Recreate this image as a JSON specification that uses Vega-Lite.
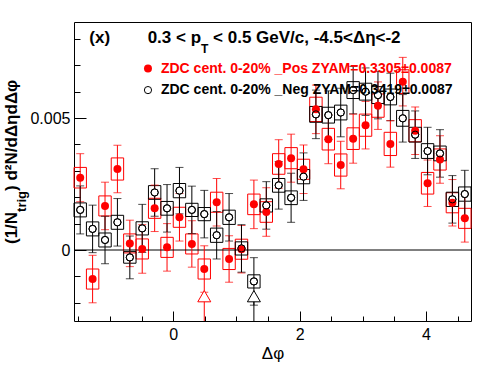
{
  "$schema": "https://vega.github.io/schema/vega-lite/v6.json",
  "width": 397,
  "height": 299,
  "autosize": {"type": "none"},
  "padding": {"left": 74, "top": 22, "right": 25, "bottom": 53},
  "background": "white",
  "config": {
    "view": {"stroke": "black", "strokeWidth": 1},
    "font": "Liberation Sans",
    "axis": {"domain": false, "grid": false, "labelFont": "Liberation Sans", "labelColor": "black", "tickColor": "black", "tickWidth": 1, "labelFontSize": 16}
  },
  "resolve": {"axis": {"x": "independent", "y": "independent"}},
  "datasets": {
    "pts": [
      {"s":"Pos","phi":-1.4726,"lo":-1.5708,"hi":-1.3744,"y":0.00274,"stat":0.00091,"sLo":0.00235,"sHi":0.00313},
      {"s":"Pos","phi":-1.2763,"lo":-1.3744,"hi":-1.1781,"y":-0.00110,"stat":0.00090,"sLo":-0.00148,"sHi":-0.00072},
      {"s":"Pos","phi":-1.0799,"lo":-1.1781,"hi":-0.9817,"y":0.00167,"stat":0.00090,"sLo":0.00129,"sHi":0.00205},
      {"s":"Pos","phi":-0.8836,"lo":-0.9817,"hi":-0.7854,"y":0.00307,"stat":0.00090,"sLo":0.00265,"sHi":0.00349},
      {"s":"Pos","phi":-0.6872,"lo":-0.7854,"hi":-0.5890,"y":0.00025,"stat":0.00088,"sLo":-0.00011,"sHi":0.00061},
      {"s":"Pos","phi":-0.4909,"lo":-0.5890,"hi":-0.3927,"y":0.00004,"stat":0.00092,"sLo":-0.00034,"sHi":0.00042},
      {"s":"Pos","phi":-0.2945,"lo":-0.3927,"hi":-0.1963,"y":0.00158,"stat":0.00088,"sLo":0.00120,"sHi":0.00196},
      {"s":"Pos","phi":-0.0982,"lo":-0.1963,"hi":0.0,"y":0.00010,"stat":0.00090,"sLo":-0.00028,"sHi":0.00048},
      {"s":"Pos","phi":0.0982,"lo":0.0,"hi":0.1963,"y":0.00124,"stat":0.00090,"sLo":0.00086,"sHi":0.00162},
      {"s":"Pos","phi":0.2945,"lo":0.1963,"hi":0.3927,"y":0.00023,"stat":0.00088,"sLo":-0.00015,"sHi":0.00061},
      {"s":"Pos","phi":0.4909,"lo":0.3927,"hi":0.5890,"y":-0.00072,"stat":0.00088,"sLo":-0.00110,"sHi":-0.00034},
      {"s":"Pos","phi":0.6872,"lo":0.5890,"hi":0.7854,"y":0.00181,"stat":0.00090,"sLo":0.00143,"sHi":0.00219},
      {"s":"Pos","phi":0.8836,"lo":0.7854,"hi":0.9817,"y":-0.00034,"stat":0.00088,"sLo":-0.00074,"sHi":0.00006},
      {"s":"Pos","phi":1.0799,"lo":0.9817,"hi":1.1781,"y":0.00003,"stat":0.00090,"sLo":-0.00035,"sHi":0.00041},
      {"s":"Pos","phi":1.2763,"lo":1.1781,"hi":1.3744,"y":0.00173,"stat":0.00092,"sLo":0.00134,"sHi":0.00212},
      {"s":"Pos","phi":1.4726,"lo":1.3744,"hi":1.5708,"y":0.00144,"stat":0.00092,"sLo":0.00105,"sHi":0.00183},
      {"s":"Pos","phi":1.6690,"lo":1.5708,"hi":1.7671,"y":0.00326,"stat":0.00092,"sLo":0.00287,"sHi":0.00365},
      {"s":"Pos","phi":1.8653,"lo":1.7671,"hi":1.9635,"y":0.00348,"stat":0.00091,"sLo":0.00308,"sHi":0.00388},
      {"s":"Pos","phi":2.0617,"lo":1.9635,"hi":2.1598,"y":0.00306,"stat":0.00092,"sLo":0.00268,"sHi":0.00344},
      {"s":"Pos","phi":2.2580,"lo":2.1598,"hi":2.3562,"y":0.00533,"stat":0.00092,"sLo":0.00487,"sHi":0.00579},
      {"s":"Pos","phi":2.4544,"lo":2.3562,"hi":2.5525,"y":0.00420,"stat":0.00093,"sLo":0.00379,"sHi":0.00461},
      {"s":"Pos","phi":2.6507,"lo":2.5525,"hi":2.7489,"y":0.00322,"stat":0.00090,"sLo":0.00280,"sHi":0.00364},
      {"s":"Pos","phi":2.8471,"lo":2.7489,"hi":2.9452,"y":0.00422,"stat":0.00093,"sLo":0.00381,"sHi":0.00463},
      {"s":"Pos","phi":3.0434,"lo":2.9452,"hi":3.1416,"y":0.00473,"stat":0.00090,"sLo":0.00431,"sHi":0.00515},
      {"s":"Pos","phi":3.2398,"lo":3.1416,"hi":3.3379,"y":0.00547,"stat":0.00090,"sLo":0.00503,"sHi":0.00591},
      {"s":"Pos","phi":3.4361,"lo":3.3379,"hi":3.5343,"y":0.00402,"stat":0.00088,"sLo":0.00358,"sHi":0.00446},
      {"s":"Pos","phi":3.6325,"lo":3.5343,"hi":3.7306,"y":0.00638,"stat":0.00092,"sLo":0.00593,"sHi":0.00683},
      {"s":"Pos","phi":3.8288,"lo":3.7306,"hi":3.9270,"y":0.00452,"stat":0.00090,"sLo":0.00410,"sHi":0.00494},
      {"s":"Pos","phi":4.0252,"lo":3.9270,"hi":4.1233,"y":0.00253,"stat":0.00088,"sLo":0.00212,"sHi":0.00294},
      {"s":"Pos","phi":4.2215,"lo":4.1233,"hi":4.3197,"y":0.00343,"stat":0.00090,"sLo":0.00303,"sHi":0.00383},
      {"s":"Pos","phi":4.4179,"lo":4.3197,"hi":4.5160,"y":0.00179,"stat":0.00088,"sLo":0.00141,"sHi":0.00217},
      {"s":"Pos","phi":4.6142,"lo":4.5160,"hi":4.7124,"y":0.00120,"stat":0.00090,"sLo":0.00082,"sHi":0.00158},
      {"s":"Neg","phi":-1.4726,"lo":-1.5708,"hi":-1.3744,"y":0.00152,"stat":0.00091,"sLo":0.001255,"sHi":0.001785},
      {"s":"Neg","phi":-1.2763,"lo":-1.3744,"hi":-1.1781,"y":0.00080,"stat":0.00090,"sLo":0.000535,"sHi":0.001065},
      {"s":"Neg","phi":-1.0799,"lo":-1.1781,"hi":-0.9817,"y":0.00038,"stat":0.00090,"sLo":0.000115,"sHi":0.000645},
      {"s":"Neg","phi":-0.8836,"lo":-0.9817,"hi":-0.7854,"y":0.00105,"stat":0.00090,"sLo":0.000785,"sHi":0.001315},
      {"s":"Neg","phi":-0.6872,"lo":-0.7854,"hi":-0.5890,"y":-0.00028,"stat":0.00081,"sLo":-0.00050,"sHi":-0.00006},
      {"s":"Neg","phi":-0.4909,"lo":-0.5890,"hi":-0.3927,"y":0.00082,"stat":0.00091,"sLo":0.00057,"sHi":0.00107},
      {"s":"Neg","phi":-0.2945,"lo":-0.3927,"hi":-0.1963,"y":0.00218,"stat":0.00090,"sLo":0.00192,"sHi":0.00244},
      {"s":"Neg","phi":-0.0982,"lo":-0.1963,"hi":0.0,"y":0.00158,"stat":0.00090,"sLo":0.00132,"sHi":0.00184},
      {"s":"Neg","phi":0.0982,"lo":0.0,"hi":0.1963,"y":0.00225,"stat":0.00088,"sLo":0.00198,"sHi":0.00252},
      {"s":"Neg","phi":0.2945,"lo":0.1963,"hi":0.3927,"y":0.00152,"stat":0.00090,"sLo":0.00127,"sHi":0.00177},
      {"s":"Neg","phi":0.4909,"lo":0.3927,"hi":0.5890,"y":0.00136,"stat":0.00090,"sLo":0.00111,"sHi":0.00161},
      {"s":"Neg","phi":0.6872,"lo":0.5890,"hi":0.7854,"y":0.00056,"stat":0.00090,"sLo":0.00029,"sHi":0.00083},
      {"s":"Neg","phi":0.8836,"lo":0.7854,"hi":0.9817,"y":0.00124,"stat":0.00090,"sLo":0.00097,"sHi":0.00151},
      {"s":"Neg","phi":1.0799,"lo":0.9817,"hi":1.1781,"y":0.00006,"stat":0.00090,"sLo":-0.00019,"sHi":0.00031},
      {"s":"Neg","phi":1.2763,"lo":1.1781,"hi":1.3744,"y":-0.00119,"stat":0.00090,"sLo":-0.00144,"sHi":-0.00094},
      {"s":"Neg","phi":1.4726,"lo":1.3744,"hi":1.5708,"y":0.00169,"stat":0.00090,"sLo":0.00144,"sHi":0.00194},
      {"s":"Neg","phi":1.6690,"lo":1.5708,"hi":1.7671,"y":0.00245,"stat":0.00090,"sLo":0.00219,"sHi":0.00271},
      {"s":"Neg","phi":1.8653,"lo":1.7671,"hi":1.9635,"y":0.00198,"stat":0.00093,"sLo":0.00172,"sHi":0.00224},
      {"s":"Neg","phi":2.0617,"lo":1.9635,"hi":2.1598,"y":0.00278,"stat":0.00090,"sLo":0.00251,"sHi":0.00305},
      {"s":"Neg","phi":2.2580,"lo":2.1598,"hi":2.3562,"y":0.00514,"stat":0.00092,"sLo":0.00484,"sHi":0.00544},
      {"s":"Neg","phi":2.4544,"lo":2.3562,"hi":2.5525,"y":0.00511,"stat":0.00092,"sLo":0.00481,"sHi":0.00541},
      {"s":"Neg","phi":2.6507,"lo":2.5525,"hi":2.7489,"y":0.00521,"stat":0.00092,"sLo":0.00493,"sHi":0.00549},
      {"s":"Neg","phi":2.8471,"lo":2.7489,"hi":2.9452,"y":0.00606,"stat":0.00090,"sLo":0.00574,"sHi":0.00638},
      {"s":"Neg","phi":3.0434,"lo":2.9452,"hi":3.1416,"y":0.00600,"stat":0.00090,"sLo":0.00568,"sHi":0.00632},
      {"s":"Neg","phi":3.2398,"lo":3.1416,"hi":3.3379,"y":0.00587,"stat":0.00090,"sLo":0.00555,"sHi":0.00619},
      {"s":"Neg","phi":3.4361,"lo":3.3379,"hi":3.5343,"y":0.00580,"stat":0.00090,"sLo":0.00550,"sHi":0.00610},
      {"s":"Neg","phi":3.6325,"lo":3.5343,"hi":3.7306,"y":0.00499,"stat":0.00090,"sLo":0.00469,"sHi":0.00529},
      {"s":"Neg","phi":3.8288,"lo":3.7306,"hi":3.9270,"y":0.00437,"stat":0.00090,"sLo":0.00409,"sHi":0.00465},
      {"s":"Neg","phi":4.0252,"lo":3.9270,"hi":4.1233,"y":0.00375,"stat":0.00090,"sLo":0.00347,"sHi":0.00403},
      {"s":"Neg","phi":4.2215,"lo":4.1233,"hi":4.3197,"y":0.00366,"stat":0.00090,"sLo":0.00338,"sHi":0.00394},
      {"s":"Neg","phi":4.4179,"lo":4.3197,"hi":4.5160,"y":0.00192,"stat":0.00090,"sLo":0.00165,"sHi":0.00219},
      {"s":"Neg","phi":4.6142,"lo":4.5160,"hi":4.7124,"y":0.00212,"stat":0.00090,"sLo":0.00185,"sHi":0.00239}
    ],
    "arrows": [
      {"s":"Pos","phi":0.4909,"y":-0.00175,"yb":-0.00269},
      {"s":"Neg","phi":1.2763,"y":-0.00175,"yb":-0.00269}
    ]
  },
  "layer": [
    {
      "data": {"name": "pts"},
      "mark": {"type": "rect", "filled": false, "strokeWidth": 1, "opacity": 1},
      "encoding": {
        "x": {"field": "lo", "type": "quantitative",
          "scale": {"domain": [-1.5708, 4.7124], "nice": false, "zero": false},
          "axis": {"orient": "bottom", "values": [-1.5,-1,-0.5,0.5,1,1.5,2.5,3,3.5,4.5],
            "title": null, "tickSize": -5, "labels": false}},
        "x2": {"field": "hi"},
        "y": {"field": "sLo", "type": "quantitative",
          "scale": {"domain": [-0.00269, 0.00864], "nice": false, "zero": false},
          "axis": {"orient": "left", "values": [-0.002,-0.001,0.001,0.002,0.003,0.004,0.006,0.007,0.008],
            "title": null, "tickSize": -6, "labels": false}},
        "y2": {"field": "sHi"},
        "stroke": {"field": "s", "type": "nominal", "scale": {"domain": ["Pos","Neg"], "range": ["#ff0000","#000000"]}, "legend": null}
      }
    },
    {
      "data": {"values": [{"z": 0}]},
      "mark": {"type": "rule", "color": "black", "strokeWidth": 1},
      "encoding": {"y": {"field": "z", "type": "quantitative",
        "axis": {"orient": "left", "values": [0, 0.005], "title": null, "tickSize": -12, "labelPadding": 16,
          "labelOverlap": false, "labelFlush": false,
          "labelExpr": "datum.value == 0 ? '0' : '0.005'"}}}
    },
    {
      "data": {"name": "pts"},
      "mark": {"type": "errorbar", "ticks": {"size": 8, "thickness": 1}, "thickness": 1},
      "encoding": {
        "x": {"field": "phi", "type": "quantitative", "axis": null},
        "y": {"field": "y", "type": "quantitative", "axis": null},
        "yError": {"field": "stat"},
        "color": {"field": "s", "type": "nominal", "scale": {"domain": ["Pos","Neg"], "range": ["#ff0000","#000000"]}, "legend": null}
      }
    },
    {
      "data": {"name": "arrows"},
      "mark": {"type": "rule", "strokeWidth": 1},
      "encoding": {
        "x": {"field": "phi", "type": "quantitative",
          "axis": {"orient": "bottom", "values": [0, 2, 4], "tickSize": -10, "labelPadding": 15,
            "labelOverlap": false, "labelFlush": false, "format": "d",
            "title": "Δφ", "titleFontSize": 17, "titleFontWeight": "normal", "titleFont": "Liberation Sans", "titleColor": "black",
            "titleBaseline": "alphabetic", "titleY": 37}},
        "y": {"field": "y", "type": "quantitative", "axis": null},
        "y2": {"field": "yb"},
        "color": {"field": "s", "type": "nominal", "scale": {"domain": ["Pos","Neg"], "range": ["#ff0000","#000000"]}, "legend": null}
      }
    },
    {
      "data": {"name": "arrows"},
      "mark": {"type": "point", "shape": "triangle-up", "size": 169, "filled": true, "fill": "white", "strokeWidth": 1, "opacity": 1},
      "encoding": {
        "x": {"field": "phi", "type": "quantitative", "axis": null},
        "y": {"field": "y", "type": "quantitative", "axis": null},
        "stroke": {"field": "s", "type": "nominal", "scale": {"domain": ["Pos","Neg"], "range": ["#ff0000","#000000"]}, "legend": null}
      }
    },
    {
      "data": {"name": "pts"},
      "transform": [{"filter": "datum.s == 'Neg'"}],
      "mark": {"type": "point", "shape": "circle", "size": 52, "filled": true, "fill": "white", "stroke": "black", "strokeWidth": 1, "opacity": 1},
      "encoding": {
        "x": {"field": "phi", "type": "quantitative", "axis": null},
        "y": {"field": "y", "type": "quantitative", "axis": null}
      }
    },
    {
      "data": {"name": "pts"},
      "transform": [{"filter": "datum.s == 'Pos'"}],
      "mark": {"type": "point", "shape": "circle", "size": 64, "filled": true, "color": "#ff0000", "opacity": 1},
      "encoding": {
        "x": {"field": "phi", "type": "quantitative", "axis": null},
        "y": {"field": "y", "type": "quantitative", "axis": null}
      }
    },
    {
      "data": {"name": "pts"},
      "transform": [{"filter": "datum.s == 'Neg'"}],
      "mark": {"type": "point", "shape": "circle", "size": 52, "filled": false, "stroke": "black", "strokeWidth": 1, "opacity": 1},
      "encoding": {
        "x": {"field": "phi", "type": "quantitative", "axis": null},
        "y": {"field": "y", "type": "quantitative", "axis": null}
      }
    },
    {
      "data": {"values": [{"x": -0.40, "y": 0.00688}]},
      "mark": {"type": "point", "shape": "circle", "size": 64, "filled": true, "color": "#ff0000", "opacity": 1},
      "encoding": {
        "x": {"field": "x", "type": "quantitative", "axis": null},
        "y": {"field": "y", "type": "quantitative", "axis": null}
      }
    },
    {
      "data": {"values": [{"x": -0.40, "y": 0.00606}]},
      "mark": {"type": "point", "shape": "circle", "size": 52, "filled": true, "fill": "white", "stroke": "black", "strokeWidth": 1, "opacity": 1},
      "encoding": {
        "x": {"field": "x", "type": "quantitative", "axis": null},
        "y": {"field": "y", "type": "quantitative", "axis": null}
      }
    },
    {
      "data": {"values": [
        {"x": -0.195, "y": 0.006712, "t": "ZDC cent. 0-20% _Pos ZYAM=0.3305±0.0087", "c": "Pos"},
        {"x": -0.195, "y": 0.005909, "t": "ZDC cent. 0-20% _Neg ZYAM=0.3419±0.0087", "c": "Neg"}
      ]},
      "mark": {"type": "text", "align": "left", "baseline": "alphabetic", "font": "Liberation Sans", "fontSize": 14, "fontWeight": "bold"},
      "encoding": {
        "x": {"field": "x", "type": "quantitative", "axis": null},
        "y": {"field": "y", "type": "quantitative", "axis": null},
        "text": {"field": "t"},
        "color": {"field": "c", "type": "nominal", "scale": {"domain": ["Pos","Neg"], "range": ["#ff0000","#000000"]}, "legend": null}
      }
    },
    {
      "data": {"values": [
        {"x": -1.329, "y": 0.00786, "t": "(x)"},
        {"x": -0.405, "y": 0.00786, "t": "0.3 < p"},
        {"x": 0.630, "y": 0.00786, "t": "< 0.5 GeV/c, -4.5<Δη<-2"}
      ]},
      "mark": {"type": "text", "align": "left", "baseline": "alphabetic", "font": "Liberation Sans", "fontSize": 17, "fontWeight": "bold", "color": "black"},
      "encoding": {
        "x": {"field": "x", "type": "quantitative", "axis": null},
        "y": {"field": "y", "type": "quantitative", "axis": null},
        "text": {"field": "t"}
      }
    },
    {
      "data": {"values": [{"x": 0.440, "y": 0.00745, "t": "T"}]},
      "mark": {"type": "text", "align": "left", "baseline": "alphabetic", "font": "Liberation Sans", "fontSize": 12, "fontWeight": "bold", "color": "black"},
      "encoding": {
        "x": {"field": "x", "type": "quantitative", "axis": null},
        "y": {"field": "y", "type": "quantitative", "axis": null},
        "text": {"field": "t"}
      }
    },
    {
      "data": {"values": [
        {"x": -2.469, "y": 0.000227, "t": "(1/N"},
        {"x": -2.469, "y": 0.002239, "t": ") d²N/dΔηdΔφ"}
      ]},
      "mark": {"type": "text", "align": "left", "baseline": "alphabetic", "angle": 270, "font": "Liberation Sans", "fontSize": 17, "fontWeight": "bold", "color": "black"},
      "encoding": {
        "x": {"field": "x", "type": "quantitative", "axis": null},
        "y": {"field": "y", "type": "quantitative", "axis": null},
        "text": {"field": "t"}
      }
    },
    {
      "data": {"values": [{"x": -2.326, "y": 0.001443, "t": "trig"}]},
      "mark": {"type": "text", "align": "left", "baseline": "alphabetic", "angle": 270, "font": "Liberation Sans", "fontSize": 13, "fontWeight": "bold", "color": "black"},
      "encoding": {
        "x": {"field": "x", "type": "quantitative", "axis": null},
        "y": {"field": "y", "type": "quantitative", "axis": null},
        "text": {"field": "t"}
      }
    }
  ]
}
